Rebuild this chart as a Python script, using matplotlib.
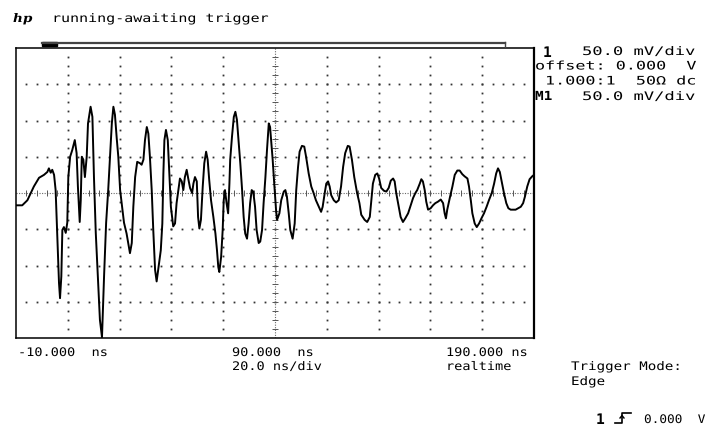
import numpy as np
import matplotlib
matplotlib.use("Agg")
import matplotlib.pyplot as plt
from matplotlib.patheffects import AbstractPathEffect
from matplotlib.transforms import Affine2D
from matplotlib.lines import Line2D
from matplotlib.patches import Rectangle

# ---------------- data (time in ns, voltage in mV) ----------------
time_ns = [
    -9.7, -7.6, -5.6, -3.1, -1.1, 0.8, 2.1, 2.7, 3.4, 4.0, 4.7, 5.3, 6.0, 6.6, 7.0, 7.5, 7.9,
    8.5, 9.2, 9.8, 10.2, 10.9, 11.7, 12.7, 13.4, 13.9, 14.6, 15.0, 15.4, 16.0, 16.6, 17.3,
    17.8, 18.8, 19.5, 20.1, 20.8, 21.7, 22.4, 23.2, 24.0, 24.8, 25.6, 26.3, 27.0, 27.6,
    28.2, 28.9, 29.5, 30.2, 30.8, 31.7, 32.7, 34.0, 34.7, 35.3, 36.0, 36.8, 37.9, 38.5,
    39.2, 39.8, 40.5, 41.1, 41.7, 42.4, 43.0, 43.7, 44.3, 44.9, 45.9, 46.5, 46.9, 47.3,
    47.9, 48.6, 49.2, 49.8, 50.7, 51.4, 52.0, 52.7, 53.3, 54.0, 54.6, 55.2, 55.9, 56.5,
    57.2, 58.0, 58.5, 59.1, 59.8, 60.3, 60.8, 61.4, 62.1, 62.7, 63.4, 64.0, 64.6, 65.3,
    66.2, 67.0, 67.6, 68.1, 68.5, 69.2, 69.8, 70.2, 70.7, 71.3, 71.9, 72.4, 72.7, 73.4,
    74.1, 74.7, 75.3, 76.0, 76.6, 77.3, 77.9, 78.5, 79.2, 79.8, 80.4, 81.0, 81.6, 82.3,
    82.9, 83.7, 84.3, 85.0, 85.6, 86.3, 86.9, 87.6, 88.1, 88.6, 89.1, 89.7, 90.4, 90.8,
    91.7, 92.4, 93.4, 94.0, 94.6, 95.3, 95.9, 96.8, 97.6, 98.2, 98.9, 99.5, 100.4, 101.3,
    102.0, 103.0, 104.0, 104.9, 105.8, 106.9, 107.8, 108.4, 109.2, 109.8, 110.5, 111.1,
    111.7, 112.7, 113.6, 114.6, 115.5, 116.3, 117.1, 118.1, 118.8, 119.7, 120.6, 121.7,
    122.6, 123.3, 124.6, 125.6, 126.6, 127.2, 127.8, 128.7, 129.5, 130.2, 131.0, 132.1,
    133.0, 133.9, 134.7, 135.6, 136.2, 136.8, 137.8, 138.5, 139.4, 140.3, 141.4, 142.4,
    143.3, 144.2, 144.9, 145.9, 146.5, 147.1, 147.8, 148.4, 149.1, 150.1, 151.0, 151.9,
    152.9, 154.0, 154.9, 155.5, 156.0, 156.5, 157.6, 158.5, 159.4, 160.4, 161.3, 162.3,
    163.2, 164.3, 164.9, 165.6, 166.2, 167.1, 167.9, 168.8, 169.7, 170.7, 171.7, 172.6,
    173.7, 174.6, 175.4, 176.1, 176.8, 177.5, 178.4, 179.3, 180.1, 181.0, 182.0, 182.9,
    183.9, 184.9, 185.8, 186.5, 187.4, 188.3, 189.3, 190.0,
]
volt_mv = [
    -17, -17, -10, 9, 21, 25, 29, 34, 28, 32, 25, 4, -65, -124, -145, -115, -51,
    -47, -55, -41, 22, 50, 59, 73, 55, 9, -40, -10, 50, 46, 22, 50,
    96, 119, 105, 22, -55, -124, -175, -199, -115, -41, 4, 50, 96, 119,
    108, 75, 50, 4, -14, -41, -56, -83, -69, -19, 22, 43, 41, 39,
    46, 73, 91, 82, 50, 4, -51, -106, -122, -106, -79, -42, 27, 73,
    87, 73, 27, -19, -46, -42, -14, 4, 20, 16, 4, 22, 32, 20,
    7, 0, 13, 22, 16, -33, -49, -37, 9, 41, 57, 46, 18, -10,
    -33, -56, -79, -102, -109, -88, -51, -10, 4, -14, -28, 13, 46, 78,
    105, 112, 101, 69, 41, 4, -33, -56, -63, -42, -14, 4, 2, -19,
    -51, -69, -67, -51, -14, 22, 59, 96, 91, 69, 46, 13, -23, -37,
    -28, -10, 2, 4, -5, -28, -51, -63, -42, 4, 36, 57, 65, 64,
    50, 27, 9, 0, -10, -19, -26, -19, 0, 13, 16, 9,
    -3, -10, -13, -10, 9, 36, 55, 65, 64, 46, 22, 0,
    -14, -30, -37, -40, -33, -10, 13, 25, 27, 20, 7, 3,
    2, 7, 17, 20, 16, 0, -19, -33, -40, -35, -28, -17,
    -7, 0, 4, 13, 19, 16, 4, -12, -23, -21, -17, -14,
    -12, -9, -14, -28, -35, -23, -5, 9, 25, 31, 31, 26,
    23, 20, 9, -10, -28, -42, -47, -42, -35, -28, -19, -10,
    0, 13, 27, 34, 29, 16, 0, -14, -21, -23, -23, -23,
    -21, -19, -14, -5, 9, 19, 23, 25,
]

x_labels = ["-10.000  ns", "90.000  ns", "190.000 ns"]
x_sub_labels = ["20.0 ns/div", "realtime"]
header_status = "running-awaiting trigger"
channel_lines = ["50.0 mV/div", "offset: 0.000  V", "1.000:1  50\u03a9 dc", "50.0 mV/div"]
trigger_lines = ["Trigger Mode:", "Edge"]
trigger_level = "0.000  V"

# ---------------- figure geometry ----------------
W, H = 706, 434
fig = plt.figure(figsize=(W / 100, H / 100), dpi=100)
fig.patch.set_facecolor("white")

def fx(x):
    return x / W

def fy(y):
    return 1 - y / H

L, T, R, B = 16, 48, 534, 338
ax = fig.add_axes([fx(L), fy(B), (R - L) / W, (B - T) / H])
ax.set_xlim(-10, 190)
ax.set_ylim(-200, 200)
ax.set_xticks([])
ax.set_yticks([])
for s in ax.spines.values():
    s.set_color("black")
    s.set_linewidth(1.1)
ax.spines["right"].set_linewidth(1.6)

# graticule dots
div_t = 20.0
div_v = 50.0
minor_t = np.arange(-10 + div_t / 5, 190, div_t / 5)
minor_v = np.arange(-200 + div_v / 4, 200, div_v / 4)
grid_v = [-150, -100, -50, 50, 100, 150]
grid_t = [10, 30, 50, 70, 110, 130, 150, 170]
for gv in grid_v:
    ax.plot(minor_t, np.full_like(minor_t, gv), ls="none", marker="s", ms=1.3,
            mew=0, color="#333333", zorder=1)
for gt in grid_t:
    ax.plot(np.full_like(minor_v, gt), minor_v, ls="none", marker="s", ms=1.3,
            mew=0, color="#333333", zorder=1)

# centre (ruler) lines
ax.axhline(0, color="#6a6a6a", lw=0.8, ls=(0, (1, 1.3)), zorder=1)
ax.axvline(90, color="#6a6a6a", lw=0.8, ls=(0, (1, 1.3)), zorder=1)
ax.plot(minor_t, np.zeros_like(minor_t), ls="none", marker="|", ms=4, mew=0.7,
        color="#555555", zorder=1)
ax.plot(np.full_like(minor_v, 90), minor_v, ls="none", marker="_", ms=4, mew=0.7,
        color="#555555", zorder=1)

# trace
ax.plot(time_ns, volt_mv, color="black", lw=1.4, solid_joinstyle="round", zorder=3,
        clip_on=True)

# ---------------- top record bar ----------------
fig.add_artist(Line2D([fx(42), fx(505)], [fy(43.3), fy(43.3)], color="#444444",
                      lw=1.6, transform=fig.transFigure))
fig.add_artist(Line2D([fx(505), fx(505)], [fy(41.5), fy(47)], color="#444444",
                      lw=1.0, transform=fig.transFigure))
fig.add_artist(Rectangle((fx(41.7), fy(46.3)), (56.7 - 41.7) / W, 4.6 / H,
                         color="black", transform=fig.transFigure))

# ---------------- text ----------------
class HStretch(AbstractPathEffect):
    """Draw text glyphs horizontally stretched (wide plotter font look)."""
    def __init__(self, sx):
        super().__init__()
        self.sx = sx

    def draw_path(self, renderer, gc, tpath, affine, rgbFace=None):
        renderer.draw_path(gc, tpath, Affine2D().scale(self.sx, 1.0) + affine, rgbFace)

MONO = "DejaVu Sans Mono"
FS = 8.5

def txt(x, y, s, sx=1.3, size=FS, weight="normal", family=MONO, style="normal"):
    fig.text(fx(x), fy(y), s, ha="left", va="baseline", fontsize=size,
             family=family, weight=weight, style=style, color="black",
             path_effects=[HStretch(sx)])

# header
txt(13, 22, "hp", sx=1.15, size=8.5, weight="bold", family="DejaVu Serif", style="italic")
txt(52, 22, header_status, sx=1.27)

# channel panel
txt(543, 57, "1", sx=1.0, size=10.5, weight="bold")
txt(582, 55, channel_lines[0], sx=1.45)
txt(535, 69.5, channel_lines[1], sx=1.42)
txt(545, 84.5, channel_lines[2], sx=1.42)
txt(535, 100, "M1", sx=1.15, size=9, weight="bold")
txt(582, 100, channel_lines[3], sx=1.45)

# time axis labels
SXB = 1.15
txt(18, 356, x_labels[0], sx=SXB)
txt(232, 356, x_labels[1], sx=SXB)
txt(446, 356, x_labels[2], sx=SXB)
txt(232, 370, x_sub_labels[0], sx=SXB)
txt(446, 370, x_sub_labels[1], sx=SXB)

# trigger panel
txt(571, 370, trigger_lines[0], sx=1.2)
txt(571, 385, trigger_lines[1], sx=1.2)
txt(596, 424, "1", sx=1.0, size=10.5, weight="bold")
# rising-edge trigger symbol
fig.add_artist(Line2D([fx(615), fx(622), fx(622), fx(631)],
                      [fy(423), fy(423), fy(413), fy(413)],
                      color="black", lw=1.2, transform=fig.transFigure))
fig.add_artist(Line2D([fx(620), fx(622), fx(624)], [fy(418), fy(415.5), fy(418)],
                      color="black", lw=1.0, transform=fig.transFigure))
txt(644, 423, trigger_level, sx=1.08)

fig.savefig("out.png", dpi=100, facecolor="white")
